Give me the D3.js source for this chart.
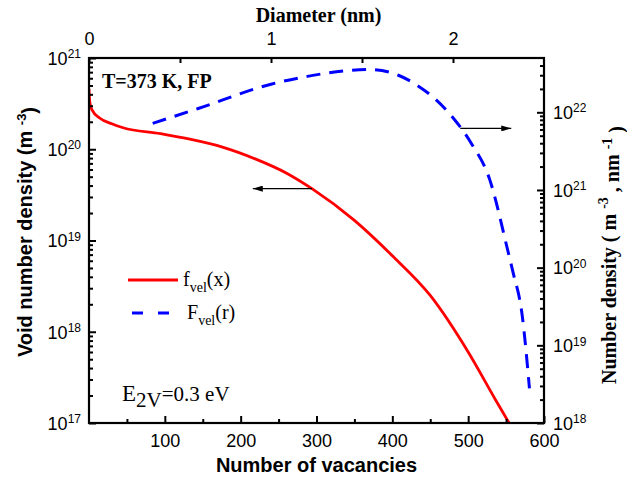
<!DOCTYPE html>
<html>
<head>
<meta charset="utf-8">
<title>Void number density</title>
<script src="https://cdn.jsdelivr.net/npm/d3@7"></script>
<style>
body { margin: 0; background: #fff; }
</style>
</head>
<body>
<div id="chart"></div>
<script>
// f_vel(x): number of vacancies -> void density (m^-3)
const vacancies = [0, 1, 4, 14, 30, 45, 94, 133, 177, 220, 260, 294, 350, 400, 450, 500, 536, 554];
const fvel = [4.6e20, 3.3e20, 2.7e20, 2.2e20, 1.9e20, 1.72e20, 1.48e20, 1.29e20, 1.05e20, 7.8e19, 5.5e19, 3.7e19, 1.66e19, 6.8e18, 2.5e18, 6.0e17, 1.8e17, 1.0e17];

// F_vel(r): diameter (nm) -> number density (m^-3 nm^-1)
const diameter = [0.35, 0.6, 1.0, 1.2, 1.4, 1.55, 1.7, 1.8, 1.9, 2.0, 2.1, 2.2, 2.3, 2.33, 2.38, 2.42];
const Fvel = [7.2e21, 1.12e22, 2.3e22, 2.9e22, 3.4e22, 3.55e22, 3.0e22, 2.25e22, 1.5e22, 8.5e21, 4.0e21, 1.4e21, 1.7e20, 8.7e19, 2.45e19, 2.8e18];

// tick values
const bottomTicks = [100, 200, 300, 400, 500, 600];
const bottomMinor = [50, 150, 250, 350, 450, 550];
const topTicks = [0, 1, 2];
const topMinor = [0.5, 1.5];
const leftExp = [17, 18, 19, 20, 21];
const rightExp = [18, 19, 20, 21, 22];

const W = 627, H = 477;
const L = 89, R = 544, T = 58, B = 423;
const SANS = "'Liberation Sans', Arial, sans-serif";
const SERIF = "'Liberation Serif', 'Times New Roman', serif";

const svg = d3.select("#chart").append("svg")
    .attr("width", W).attr("height", H)
    .style("display", "block");

const x = d3.scaleLinear().domain([0, 600]).range([L, R]);
const xTop = d3.scaleLinear().domain([0, 2.5]).range([L, R]);
const yL = d3.scaleLog().domain([1e17, 1e21]).range([B, T]);
const yR = d3.scaleLog().domain([1e18, 5e22]).range([B, T]);

function logMinors(scale) {
    const [lo, hi] = scale.domain();
    const out = [];
    for (let e = Math.floor(Math.log10(lo)); e <= Math.ceil(Math.log10(hi)); e++) {
        for (let k = 2; k <= 9; k++) {
            const v = k * Math.pow(10, e);
            if (v > lo && v < hi) out.push(v);
        }
    }
    return out;
}

// arrow head
svg.append("defs").append("marker")
    .attr("id", "head")
    .attr("viewBox", "0 0 10 6")
    .attr("refX", 10).attr("refY", 3)
    .attr("markerWidth", 10).attr("markerHeight", 6)
    .attr("markerUnits", "userSpaceOnUse")
    .attr("orient", "auto")
    .append("path").attr("d", "M0,0L10,3L0,6Z").attr("fill", "#000");

// curves
const redLine = d3.line()
    .x((d, i) => x(vacancies[i]))
    .y(d => yL(d))
    .curve(d3.curveMonotoneX);

const blueLine = d3.line()
    .x((d, i) => xTop(diameter[i]))
    .y(d => yR(d))
    .curve(d3.curveMonotoneX);

svg.append("defs").append("clipPath").attr("id", "plotclip")
    .append("rect").attr("x", L).attr("y", T).attr("width", R - L).attr("height", B - T);

const plot = svg.append("g").attr("clip-path", "url(#plotclip)");

plot.append("path")
    .datum(fvel)
    .attr("d", redLine)
    .attr("fill", "none")
    .attr("stroke", "#ff0000")
    .attr("stroke-width", 2.8);

plot.append("path")
    .datum(Fvel)
    .attr("d", blueLine)
    .attr("fill", "none")
    .attr("stroke", "#0000ff")
    .attr("stroke-width", 3)
    .attr("stroke-dasharray", "14,9");

// axes (ticks point inward)
function styleAxis(g) {
    g.select(".domain").remove();
    g.selectAll("line").attr("stroke", "#000").attr("stroke-width", 2);
}

svg.append("g").attr("transform", `translate(0,${B})`)
    .call(d3.axisBottom(x).tickValues(bottomMinor).tickSize(-4).tickFormat(""))
    .call(styleAxis);
const gb = svg.append("g").attr("transform", `translate(0,${B})`)
    .call(d3.axisBottom(x).tickValues(bottomTicks).tickSize(-7).tickFormat(""))
    .call(styleAxis);
gb.selectAll(".tick").append("text")
    .attr("y", 24).attr("text-anchor", "middle")
    .attr("fill", "#000")
    .style("font-family", SANS).style("font-size", "18px")
    .text(d => d);

svg.append("g").attr("transform", `translate(0,${T})`)
    .call(d3.axisTop(xTop).tickValues(topMinor).tickSize(-5).tickFormat(""))
    .call(styleAxis);
const gt = svg.append("g").attr("transform", `translate(0,${T})`)
    .call(d3.axisTop(xTop).tickValues(topTicks).tickSize(-5).tickFormat(""))
    .call(styleAxis);
gt.selectAll(".tick").append("text")
    .attr("y", -13).attr("text-anchor", "middle")
    .attr("fill", "#000")
    .style("font-family", SANS).style("font-size", "18px")
    .text(d => d);

svg.append("g").attr("transform", `translate(${L},0)`)
    .call(d3.axisLeft(yL).tickValues(logMinors(yL)).tickSize(-4).tickFormat(""))
    .call(styleAxis);
const gl = svg.append("g").attr("transform", `translate(${L},0)`)
    .call(d3.axisLeft(yL).tickValues(leftExp.map(e => Math.pow(10, e))).tickSize(-7).tickFormat(""))
    .call(styleAxis);

svg.append("g").attr("transform", `translate(${R},0)`)
    .call(d3.axisRight(yR).tickValues(logMinors(yR)).tickSize(-4).tickFormat(""))
    .call(styleAxis);
const gr = svg.append("g").attr("transform", `translate(${R},0)`)
    .call(d3.axisRight(yR).tickValues(rightExp.map(e => Math.pow(10, e))).tickSize(-7).tickFormat(""))
    .call(styleAxis);

function powerLabel(sel, dx, anchor) {
    const t = sel.append("text")
        .attr("x", dx).attr("dy", "0.35em")
        .attr("text-anchor", anchor)
        .attr("fill", "#000")
        .style("font-family", SANS).style("font-size", "18px");
    t.append("tspan").text("10");
    t.append("tspan").attr("dy", "-0.55em").style("font-size", "12px")
        .text(d => Math.round(Math.log10(d)));
}
gl.selectAll(".tick").call(powerLabel, -8, "end");
gr.selectAll(".tick").call(powerLabel, 9, "start");

// frame
svg.append("rect")
    .attr("x", L).attr("y", T).attr("width", R - L).attr("height", B - T)
    .attr("fill", "none").attr("stroke", "#000").attr("stroke-width", 2.2);

// axis titles
svg.append("text")
    .attr("x", (L + R) / 2).attr("y", 472)
    .attr("text-anchor", "middle")
    .style("font-family", SANS).style("font-size", "20px").style("font-weight", "bold")
    .text("Number of vacancies");

svg.append("text")
    .attr("x", (L + R) / 2 + 2).attr("y", 22)
    .attr("text-anchor", "middle")
    .style("font-family", SERIF).style("font-size", "20px").style("font-weight", "bold")
    .text("Diameter (nm)");

const yt = svg.append("text")
    .attr("transform", "translate(32,232) rotate(-90)")
    .attr("text-anchor", "middle")
    .style("font-family", SANS).style("font-size", "20px").style("font-weight", "bold");
yt.append("tspan").text("Void number density (m ");
yt.append("tspan").attr("dy", "-0.5em").style("font-size", "13px").text("-3");
yt.append("tspan").attr("dy", "0.5em").text(")");

const yt2 = svg.append("text")
    .attr("transform", "translate(616,255) rotate(-90)")
    .attr("text-anchor", "middle")
    .style("font-family", SERIF).style("font-size", "20px").style("font-weight", "bold");
yt2.append("tspan").text("Number density ( m ");
yt2.append("tspan").attr("dy", "-0.55em").style("font-size", "14px").text("-3");
yt2.append("tspan").attr("dy", "0.55em").text(" , nm ");
yt2.append("tspan").attr("dy", "-0.55em").style("font-size", "14px").text("-1");
yt2.append("tspan").attr("dy", "0.55em").text(" )");

// annotations
svg.append("text")
    .attr("x", 102).attr("y", 88)
    .style("font-family", SERIF).style("font-size", "20px").style("font-weight", "bold")
    .text("T=373 K, FP");

const et = svg.append("text")
    .attr("x", 122).attr("y", 401)
    .style("font-family", SERIF).style("font-size", "21px");
et.append("tspan").style("font-size", "23px").text("E");
et.append("tspan").attr("dy", 6).text("2V");
et.append("tspan").attr("dy", -6).text("=0.3 eV");

// arrows pointing to each curve's axis
svg.append("line")
    .attr("x1", x(294)).attr("x2", x(216))
    .attr("y1", yL(3.7e19)).attr("y2", yL(3.7e19))
    .attr("stroke", "#000").attr("stroke-width", 1.2)
    .attr("marker-end", "url(#head)");

svg.append("line")
    .attr("x1", xTop(2.04)).attr("x2", xTop(2.32))
    .attr("y1", yR(6.2e21)).attr("y2", yR(6.2e21))
    .attr("stroke", "#000").attr("stroke-width", 1.2)
    .attr("marker-end", "url(#head)");

// legend
const leg = svg.append("g");
leg.append("line")
    .attr("x1", 128).attr("x2", 178).attr("y1", 280).attr("y2", 280)
    .attr("stroke", "#ff0000").attr("stroke-width", 2.8);
leg.append("line")
    .attr("x1", 132).attr("x2", 170).attr("y1", 313).attr("y2", 313)
    .attr("stroke", "#0000ff").attr("stroke-width", 3)
    .attr("stroke-dasharray", "11,15");

const l1 = leg.append("text").attr("x", 183).attr("y", 286)
    .style("font-family", SERIF).style("font-size", "20px");
l1.append("tspan").text("f");
l1.append("tspan").attr("dy", 6).style("font-size", "14px").text("vel");
l1.append("tspan").attr("dy", -6).text("(x)");

const l2 = leg.append("text").attr("x", 187).attr("y", 319)
    .style("font-family", SERIF).style("font-size", "20px");
l2.append("tspan").text("F");
l2.append("tspan").attr("dy", 6).style("font-size", "14px").text("vel");
l2.append("tspan").attr("dy", -6).text("(r)");
</script>
</body>
</html>
